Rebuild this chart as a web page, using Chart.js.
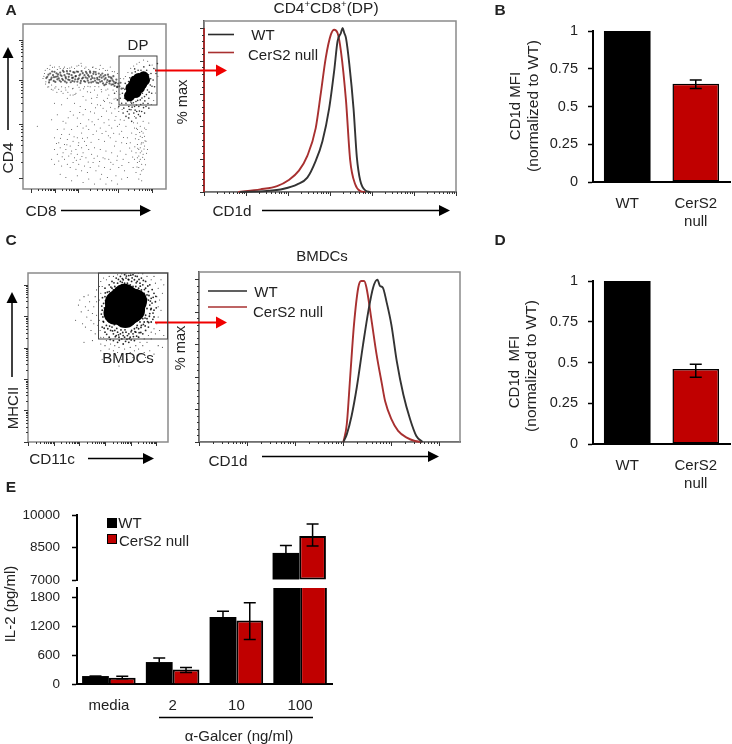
<!DOCTYPE html>
<html>
<head>
<meta charset="utf-8">
<script src="https://cdn.jsdelivr.net/npm/chart.js@4"></script>
<style>
  html, body { margin: 0; padding: 0; background: #fff; }
  #fig { position: relative; width: 732px; height: 744px; overflow: hidden; font-family: "Liberation Sans", Arial, sans-serif; color: #222; }
  #fig canvas { position: absolute; filter: blur(0.35px); }
  #fig svg { position: absolute; left: 0; top: 0; filter: blur(0.3px); }
  .lbl { position: absolute; white-space: nowrap; line-height: 1; }
  .lbl sup { font-size: 62%; line-height: 0; }
  .swatch { position: absolute; }
</style>
</head>
<body>
<div id="fig"></div>
<script>
// panel A dot plot, values in % of the axis
const aBlob = [[74.5,56.5],[76,58],[77.5,60.5],[79.6,62],[81.3,64],[83,66],[84.3,68],[77.3,63],[80.8,67],[75.5,61],[81.5,61.5],[79,58.5],[83,63.5],[78.5,65.5],[85,66]];
const aBand = [[17,68],[18.5,66],[19,70],[20,67.5],[21,69],[21.5,65.5],[22,71],[23,68],[24,66.5],[24.5,69.5],[25,67],[26,70.5],[26.5,65],[27,68.5],[28,66],[28.5,71],[29,69],[30,67],[30.5,64.5],[31,70],[32,68],[32.5,66],[33,71.5],[34,69],[34.5,65.5],[35,67.5],[36,70.5],[36.5,66.5],[37,68.5],[38,65],[38.5,71],[39,67],[40,69.5],[40.5,65.5],[41,71.5],[42,67.5],[43,69],[43.5,65],[44,71],[45,67],[45.5,69],[46,64.5],[47,70.5],[47.5,66.5],[48,68.5],[49,65],[49.5,71],[50,67],[51,69.5],[51.5,64.5],[52,66.5],[53,70],[53.5,68],[54,65],[55,67.5],[55.5,70],[56,64],[57,66.5],[57.5,69],[58,63.5],[59,66],[60,68],[60.5,64],[61,65.5],[62,67],[63,63.5],[63.5,65],[64,62.5],[65,64.5],[66,62]];
const aBand2 = [[16.3,67.2],[17.8,69.3],[18.2,64.6],[19.6,66.4],[20.4,71.2],[21.7,67.8],[22.6,64.9],[23.4,70.1],[24.2,68.3],[25.6,65.7],[26.3,69.1],[27.4,66.8],[27.9,71.8],[29.3,65.2],[29.8,67.9],[30.7,71.4],[31.6,66.3],[32.3,69.6],[33.4,64.7],[34.3,67.3],[35.2,70.8],[35.9,65.1],[36.7,68.2],[37.6,71.2],[38.3,66.4],[39.4,68.8],[40.2,64.2],[41.3,66.9],[41.8,70.2],[42.7,65.4],[43.8,67.6],[44.6,70.1],[45.3,65.7],[46.2,68.1],[46.8,71.3],[47.7,64.6],[48.5,67.3],[49.2,69.8],[50.4,65.6],[50.8,70.9],[51.9,67.4],[52.6,64.2],[53.3,66.2],[54.4,69.1],[55.2,65.4],[56.3,68.2],[56.9,62.9],[57.8,67.2],[58.6,64.7],[59.4,69.3],[60.2,65.3],[61.3,67.6],[61.9,63.2],[62.7,65.8],[63.2,68.4],[64.4,64.1],[65.3,66.3],[65.8,61.7],[66.6,63.9],[67.4,62.2],[68.2,64.4],[68.9,60.8]];
const aDpHalo = [[68,55],[69,52],[69.5,58],[70,61],[70.5,49],[71,55],[71.5,64],[72,52],[72.5,59],[73,47],[73.5,62],[74,50],[74.5,54],[75,65],[75.5,48],[76,52],[76.5,68],[77,55],[77.5,46],[78,50],[78.5,71],[79,53],[79.5,47],[80,56],[80.5,72],[81,50],[81.5,59],[82,54],[82.5,72],[83,47],[83.5,58],[84,52],[84.5,74],[85,56],[85.5,62],[86,50],[86.5,72],[87,60],[87.5,66],[88,55],[88.5,75],[89,63],[89.5,70],[90,58],[91,66],[91.5,73],[92,62],[93,70],[94,76],[72,44],[74,43],[76,41],[79,43],[82,44],[85,46],[88,49],[70,46],[67,50],[66,54],[64,58],[72.3,56.6],[73.2,53.4],[74.3,48.2],[75.4,52.7],[76.3,49.6],[77.2,52.3],[78.4,47.8],[79.3,50.9],[80.2,53.7],[81.4,47.2],[82.3,51.2],[83.2,55.1],[84.3,49.3],[85.2,53.4],[86.3,57.2],[87.4,51.8],[88.2,58.7],[71.2,60.4],[72.7,62.8],[73.8,65.1],[74.7,67.4],[76.2,70.3],[78.1,72.8],[86.7,64.2],[87.8,69.2],[89.3,66.8],[90.2,62.3],[74.2,45.4],[80.7,45.1]];
const aFine = [[14,67],[15,70],[16,65],[15.5,72],[17,73],[18,62],[19,75],[20,63],[21,60],[22,74],[23,62],[24,72.5],[25,60.5],[26,73],[27,62],[28,58],[29,74],[30,60],[31,73],[32,62],[33,57],[34,74],[35,61],[36,73],[37,58],[38,63],[39,75],[40,60],[41,74.5],[42,56],[43,62],[44,74],[45,59],[46,72.5],[47,62],[48,55],[49,74],[50,60],[51,73],[52,57],[53,62],[54,75],[55,59],[56,73],[57,53],[58,60],[59,72],[60,57],[61,74],[62,52],[63,60],[64,71],[65,55],[66,70],[67,47],[68,67],[59,55],[56,49],[52,51],[48,52],[44,54],[40,50],[36,52],[62,46],[65,44],[68,42],[60,42],[55,44],[50,46],[46,42],[42,45],[38,43],[33,47],[30,40],[34,36],[38,38],[42,37],[46,36],[50,39],[54,37],[58,35],[62,37],[66,38],[69,35],[72,38],[45,31],[49,33],[53,30],[57,29],[61,31],[65,29],[69,28],[73,31],[76,34],[78,37],[80,40],[82,38],[84,41],[79,33],[81,30],[83,35],[85,32],[80,27],[82,25],[84,28],[86,36],[79,22],[81,20],[83,23],[85,26],[78,18],[80,16],[82,18],[84,21],[86,29],[81,13],[83,15],[85,18],[79,10],[82,9],[84,12],[81,6],[83,5],[77,13],[76,23],[75,28],[87,24],[88,40],[78,44],[80,36],[82,32],[84,34],[81,24],[83,28],[85,37],[80,19],[82,22],[83,11],[24,36],[22,31],[25,28],[27,33],[29,27],[31,30],[33,26],[35,29],[37,24],[39,28],[41,25],[43,29],[22,24],[24,21],[26,25],[28,22],[30,24],[32,20],[34,23],[36,19],[38,21],[40,18],[42,22],[44,19],[46,24],[48,21],[50,25],[52,20],[54,24],[56,19],[58,23],[60,18],[62,22],[64,26],[66,20],[68,23],[70,18],[72,21],[74,16],[20,18],[22,15],[25,17],[27,14],[29,18],[31,15],[33,13],[35,16],[37,12],[39,15],[41,11],[43,14],[45,10],[47,13],[49,16],[51,11],[53,14],[55,9],[57,13],[59,7],[61,12],[63,15],[65,8],[67,13],[69,6],[71,11],[73,7],[26,9],[30,7],[34,5],[38,8],[42,4],[46,6],[50,3],[54,6],[58,3],[62,5],[66,3],[28,41],[24,45],[20,42],[38,31],[41,34],[10,38],[22,52],[27,51],[31,55],[35,57]];
const aFine2 = [[14.6,68.4],[15.8,63.7],[17.3,61.8],[18.7,72.6],[19.8,60.4],[20.6,73.8],[22.3,61.2],[23.7,58.6],[25.3,74.1],[26.7,59.3],[28.4,73.2],[29.6,61.4],[31.4,58.7],[32.7,73.4],[34.6,60.7],[36.3,57.2],[37.7,74.6],[39.2,61.7],[40.6,76.2],[42.4,60.8],[43.2,73.2],[45.4,62.2],[47.3,58.6],[48.6,73.8],[50.3,62.1],[51.7,55.4],[53.4,72.6],[54.7,60.3],[56.4,53.8],[57.6,71.8],[59.3,60.6],[60.7,52.3],[62.4,71.2],[63.7,54.6],[65.4,59.2],[66.6,49.3],[67.8,57.4],[69.3,48.2],[70.4,66.8],[71.6,68.2],[73.4,70.6],[75.3,73.2],[77.4,74.6],[79.6,75.7],[81.3,76.8],[84.3,78.2],[87.2,77.4],[90.3,75.2],[92.4,72.7],[94.3,68.4],[92.6,58.2],[91.4,53.6],[89.7,51.2],[64.3,48.7],[61.2,49.6],[58.4,47.2],[54.3,50.8],[50.7,49.2],[47.2,46.8],[43.6,48.2],[39.7,46.3],[35.2,44.8],[31.6,43.2],[40.3,39.7],[44.2,38.2],[48.3,40.8],[52.6,42.3],[56.7,40.2],[60.2,38.6],[64.3,41.7],[67.4,39.3],[70.7,41.6],[73.6,43.2],[77.3,40.2],[79.4,36.8],[81.6,34.2],[83.4,31.2],[85.3,29.2],[78.6,30.4],[80.3,24.7],[82.6,27.3],[84.6,24.3],[86.4,21.7],[79.7,13.4],[81.4,16.8],[83.7,19.3],[85.6,14.7],[78.2,25.6],[76.7,19.4],[74.6,24.8],[72.4,27.6],[70.3,31.2],[67.3,33.4],[63.4,33.8],[59.7,32.2],[55.3,33.6],[51.4,35.2],[47.6,28.4],[44.3,26.3],[41.6,30.7],[38.7,26.4],[35.7,31.6],[32.4,33.2],[28.7,36.4],[26.2,30.7],[23.4,27.6],[30.7,26.8],[33.6,21.4],[27.4,19.6],[37.3,17.4],[41.2,19.7],[45.6,16.4],[49.7,18.6],[53.6,16.7],[57.3,18.3],[61.4,16.2],[65.7,17.4],[69.2,14.3]];

// panel C dot plot
const cCore = [[69.5,80.5]];
const cLobes = [[62.5,76.5],[63.5,82.5],[76.5,83.5],[75,78],[69,86.5],[69.5,74.5],[72,84.5],[65.5,77]];
const cHalo = [[53,78],[53.5,74],[54,82],[54,71],[55,86],[56,69],[57,67],[58,89],[59,66],[60,91],[61,64],[62,92],[63,63],[64,94],[65,62],[66,95],[67,61],[68,96],[69,62],[70,97],[71,63],[72,96],[73,62],[74,95],[75,64],[76,96],[77,65],[78,95],[79,67],[80,94],[81,69],[82,93],[83,71],[84,91],[85,73],[86,89],[87,76],[88,85],[87,81],[88,79],[86,84],[85,79],[55,76],[56,81],[57,85],[56,73],[58,71],[59,88],[60,68],[61,90],[62,66],[63,91],[64,65],[65,92],[66,64],[67,93],[68,63],[69,94],[70,65],[71,94],[72,64],[73,93],[74,66],[75,92],[76,67],[77,92],[78,69],[79,91],[80,71],[81,90],[82,73],[83,88],[84,75],[85,87],[60,95],[63,97],[66,98],[69,99],[72,98.5],[75,99],[78,98],[81,97],[84,95],[87,93],[58,93],[55,91],[90,88],[91,83],[90,78],[90,74],[88,71],[86,68],[84,66],[82,64],[79,62],[76,60],[72,59],[68,58],[64,59],[61,60],[58,62],[55,65],[53,68]];
const cHalo2 = [[54.6,79.3],[55.4,83.6],[56.3,77.4],[57.2,72.8],[57.7,83.2],[58.3,68.6],[59.4,86.7],[60.4,65.7],[60.8,88.3],[61.7,69.4],[62.6,89.6],[63.4,67.2],[64.3,91.2],[64.7,63.4],[65.6,90.2],[66.4,66.3],[67.3,94.4],[67.7,64.8],[68.4,91.7],[69.3,66.4],[70.4,92.3],[70.7,60.8],[71.6,96.2],[72.4,61.2],[73.3,90.7],[73.6,65.2],[74.4,97.1],[75.3,62.4],[75.7,89.6],[76.4,65.3],[77.3,94.2],[77.6,67.7],[78.4,89.8],[79.4,64.7],[80.2,92.2],[80.7,67.8],[81.6,88.2],[82.4,69.6],[83.2,90.2],[83.6,73.3],[84.7,84.6],[85.4,71.2],[86.4,86.7],[86.7,74.4],[87.4,83.4],[87.7,78.4],[88.6,82.2],[89.3,76.3],[89.4,85.6],[88.7,90.2],[85.6,92.3],[82.4,95.6],[79.3,96.2],[76.7,98.2],[73.4,98.7],[70.3,98.2],[67.4,96.7],[64.6,96.2],[61.4,94.2],[59.2,91.7],[56.7,88.6],[55.2,88.2],[53.2,85.4],[52.7,80.4],[52.4,75.7],[53.7,71.4],[54.4,67.3],[56.2,63.7],[58.7,60.6],[62.4,62.3],[65.2,60.2],[69.7,59.6],[73.7,60.4],[77.6,62.6],[80.6,64.8],[83.7,68.7],[86.2,70.7],[89.2,72.6],[91.6,79.4],[91.3,86.2]];
const cFine = [[51,72],[51.5,66],[52,62],[51,84],[52,88],[53,92],[52,95],[54,97],[56,96],[58,98],[61,98],[64,99],[67,99.5],[70,99.5],[73,100],[76,100],[79,100],[82,99.5],[85,98],[88,96],[91,94],[93,91],[92,86],[94,84],[93,80],[95,78],[93,74],[92,70],[96,88],[97,93],[95,96],[90,98],[90,67],[88,65],[86,63],[83,61],[80,59],[77,57],[73,56],[69,55],[65,56],[62,57],[59,58],[56,60],[54,62],[52,58],[55,57],[58,55],[61,54],[64,53],[67,52],[70,52],[73,53],[76,54],[79,55],[82,57],[85,59],[88,61],[91,64],[94,66],[97,63],[93,57],[87,54],[83,53],[79,51],[75,50],[71,49],[67,49],[63,50],[59,51],[55,52],[52,54],[84,50],[90,52],[96,56],[53,49],[58,47],[65,45],[72,47],[47,80],[46,76],[45,72],[44,83],[43,78],[42,74],[41,80],[40,86],[38,77],[36,81],[48,86],[47,70],[49,75],[49,83],[50,69],[48,64],[45,66],[43,87],[34,72],[41,68],[39,70],[37,84],[46,60],[40,59],[51,92],[49,90]];

// histograms, channel decade vs % of max
const aWtX = [0.86,1.5,1.9,2.22,2.46,2.66,2.82,2.98,3.1,3.18,3.26,3.3,3.34,3.38,3.46,3.56,3.64,3.72,3.84,3.96];
const aWtY = [0,0.6,2,4.7,8.8,19,31,51,74,92,97,100,97,94,78,51,21,7,1,0];
const aNullX = [0.82,1.34,1.74,2.02,2.26,2.46,2.66,2.78,2.9,3.02,3.1,3.18,3.26,3.38,3.48,3.6,3.72,3.84];
const aNullY = [0,1.6,3.6,7.3,13,22,39,60,82,96,99,97,86,56,19.5,4.7,0.6,0];
const aSpikeX = [0,0];
const aSpikeY = [0,100];
const cWtX = [3.01,3.08,3.18,3.29,3.42,3.53,3.63,3.72,3.77,3.83,3.91,4.01,4.12,4.26,4.4,4.53,4.66];
const cWtY = [0,4.7,16,33.8,60,80.5,95,99.8,96,95,86,72,50,29,14,3.7,0];
const cNullX = [3.01,3.08,3.15,3.23,3.32,3.38,3.44,3.49,3.6,3.7,3.81,3.88,4.01,4.15,4.33,4.5,4.64];
const cNullY = [0,10.9,39.5,72,95,99,99,95,74,54,36,25,14,6.8,2.7,0.6,0];

// bar panels
const barCats = ['WT', ['CerS2', 'null']];
const mfiTicks = [0, 0.25, 0.5, 0.75, 1];
const bValues = [1, 0.65];
const bHi = [null, 0.675];
const bLo = [null, 0.62];
const dValues = [1, 0.46];
const dHi = [null, 0.49];
const dLo = [null, 0.41];

const eCats = ['media', '2', '10', '100'];
const eWt = [165, 455, 1387, 8250];
const eWtHi = [165, 538, 1510, 8590];
const eNull = [132, 298, 1318, 9030];
const eNullHi = [160, 340, 1685, 9590];
const eNullLo = [110, 236, 925, 8570];
const eTicksLow = [0, 600, 1200, 1800];
const eTicksHigh = [7000, 8500, 10000];

const BLACK = '#000';
const RED = '#c00000';
const FONT = '"Liberation Sans", Arial, sans-serif';
const fig = document.getElementById('fig');

// error bars from the dataset's errHi / errLo
const errBars = {
  id: 'errBars',
  afterDatasetsDraw(chart) {
    const { ctx, chartArea: a, scales: { y } } = chart;
    ctx.save();
    ctx.beginPath();
    ctx.rect(a.left - 8, a.top - 2, a.width + 16, a.height + 3);
    ctx.clip();
    ctx.strokeStyle = BLACK;
    ctx.lineWidth = 1.5;
    chart.data.datasets.forEach((ds, i) => {
      chart.getDatasetMeta(i).data.forEach((bar, k) => {
        if (ds.errHi == null || ds.errHi[k] == null) return;
        const hi = y.getPixelForValue(ds.errHi[k]);
        const lo = y.getPixelForValue(ds.errLo ? ds.errLo[k] : ds.data[k]);
        ctx.beginPath();
        ctx.moveTo(bar.x, hi); ctx.lineTo(bar.x, lo);
        ctx.moveTo(bar.x - 6, hi); ctx.lineTo(bar.x + 6, hi);
        if (ds.errLo) { ctx.moveTo(bar.x - 6, lo); ctx.lineTo(bar.x + 6, lo); }
        ctx.stroke();
      });
    });
    ctx.restore();
  }
};

// grey frame plus the flow cytometry style tick marks
const flowFrame = {
  id: 'flowFrame',
  beforeDatasetsDraw(chart) {
    const { ctx, chartArea: a } = chart;
    ctx.save();
    ctx.strokeStyle = '#8a8a8a';
    ctx.lineWidth = 1.5;
    ctx.strokeRect(a.left, a.top, a.width, a.height);
    ctx.restore();
  },
  afterDraw(chart, args, o) {
    const { ctx, chartArea: a, scales: { x, y } } = chart;
    ctx.save();
    ctx.strokeStyle = '#333';
    ctx.lineWidth = 1;
    const mark = (scale, v, len) => {
      const p = Math.round(scale.getPixelForValue(v)) + 0.5;
      ctx.beginPath();
      if (scale === x) { ctx.moveTo(p, a.bottom); ctx.lineTo(p, a.bottom + len); }
      else { ctx.moveTo(a.left, p); ctx.lineTo(a.left - len, p); }
      ctx.stroke();
    };
    [[x, o.xMajors, false], [y, o.yMajors, o.yLinear]].forEach(([scale, majors, linear]) => {
      majors.forEach((m, i) => {
        mark(scale, m, 4);
        if (i === majors.length - 1) return;
        const next = majors[i + 1];
        if (linear) for (let k = 1; k < 5; k++) mark(scale, m + (next - m) * k / 5, 2);
        else for (let k = 2; k < 10; k++) mark(scale, m + Math.log10(k) * (next - m), 2);
      });
    });
    ctx.restore();
  }
};

// canvas placed so that the plot area lands exactly on the given box
function plot(box, type, data, scales, plugins, pluginOpts) {
  const padLeft = Math.min(80, box.left);
  const padRight = Math.min(4, 732 - box.right);
  const padTop = 30;
  const padBottom = 50;
  const c = document.createElement('canvas');
  c.width = box.right - box.left + padLeft + padRight;
  c.height = box.bottom - box.top + padTop + padBottom;
  c.style.left = (box.left - padLeft) + 'px';
  c.style.top = (box.top - padTop) + 'px';
  fig.appendChild(c);
  scales.x.afterFit = s => { s.height = padBottom; };
  scales.y.afterFit = s => { s.width = padLeft; };
  return new Chart(c, {
    type: type,
    data: data,
    options: {
      responsive: false,
      animation: false,
      events: [],
      layout: { autoPadding: false, padding: { left: 0, top: padTop, right: padRight, bottom: 0 } },
      scales: scales,
      plugins: Object.assign({ legend: { display: false }, tooltip: { enabled: false } }, pluginOpts)
    },
    plugins: plugins
  });
}

const dots = (points, r, color) => ({ data: points.map(p => ({ x: p[0], y: p[1] })), pointRadius: r, pointBackgroundColor: color, pointBorderWidth: 0, showLine: false });
const curve = (xs, ys, color) => ({ data: xs.map((x, i) => ({ x: x, y: ys[i] })), borderColor: color, borderWidth: 1.9, pointRadius: 0, showLine: true, cubicInterpolationMode: 'monotone', clip: 2 });
const quiet = (min, max, line) => ({
  type: 'linear', min: min, max: max,
  grid: { display: false },
  ticks: { display: false },
  border: { display: line, color: '#222', width: 1.5 }
});

function dotPlot(box, datasets, ticks) {
  plot(box, 'scatter', { datasets: datasets }, { x: quiet(0, 100, false), y: quiet(0, 100, false) }, [flowFrame], { flowFrame: ticks });
}

function histogram(box, xMax, yMax, xMajors, datasets) {
  plot(box, 'scatter', { datasets: datasets }, { x: quiet(0, xMax, true), y: quiet(0, yMax, true) }, [flowFrame], {
    flowFrame: { xMajors: xMajors, yMajors: [0, 20, 40, 60, 80, 100], yLinear: true }
  });
}

function barAxis(ticksList, min, max, padding, size) {
  return {
    min: min, max: max,
    afterBuildTicks: s => { s.ticks = ticksList.map(v => ({ value: v })); },
    grid: { drawOnChartArea: false, tickLength: 5, tickColor: BLACK, tickWidth: 1.5 },
    border: { color: BLACK, width: 2 },
    ticks: { padding: padding, color: '#222', font: { family: FONT, size: size }, autoSkip: false, callback: v => String(v) }
  };
}
function catAxis(line, size) {
  return {
    grid: { display: false },
    border: { display: line, color: BLACK, width: 2 },
    ticks: { display: line, padding: 5, color: '#222', font: { family: FONT, size: size, lineHeight: 1.2 }, maxRotation: 0 }
  };
}

function mfiBars(box, values, hi, lo) {
  plot(box, 'bar', {
    labels: barCats,
    datasets: [{
      data: values, errHi: hi, errLo: lo,
      backgroundColor: [BLACK, RED], borderColor: BLACK, borderWidth: [0, 1.5], borderSkipped: false,
      barPercentage: 0.68, categoryPercentage: 1
    }]
  }, { x: catAxis(true, 15), y: barAxis(mfiTicks, 0, 1, 10, 14.5) }, [errBars]);
}

// ---- dot plots ----
dotPlot({ left: 23, top: 24, right: 166, bottom: 189 }, [
  dots(aFine, 0.5, 'rgba(0,0,0,.75)'),
  dots(aFine2, 0.5, 'rgba(0,0,0,.75)'),
  dots(aDpHalo, 0.8, 'rgba(0,0,0,.8)'),
  dots(aBand, 1.1, 'rgba(0,0,0,.6)'),
  dots(aBand2, 1.1, 'rgba(0,0,0,.6)'),
  dots(aBlob, 5.5, BLACK)
], { xMajors: [5.4, 22.3, 38.4, 66.5, 90.4], yMajors: [6.7, 39.5, 66, 90.5] });

dotPlot({ left: 28, top: 273, right: 168, bottom: 442 }, [
  dots(cFine, 0.55, 'rgba(0,0,0,.8)'),
  dots(cHalo, 0.9, 'rgba(0,0,0,.85)'),
  dots(cHalo2, 0.9, 'rgba(0,0,0,.85)'),
  dots(cCore, 20, BLACK),
  dots(cLobes, 12, BLACK)
], { xMajors: [0, 18.4, 36.6, 55, 73.4, 91.6], yMajors: [0, 18.8, 37.2, 55.8, 74.3, 93] });

// ---- histograms ----
histogram({ left: 204, top: 21, right: 456, bottom: 192 }, 6, 104.3, [0, 1, 2, 3, 4, 5, 6], [
  curve(aSpikeX, aSpikeY, '#a82a2a'),
  curve(aWtX, aWtY, '#333'),
  curve(aNullX, aNullY, '#a83030')
]);
histogram({ left: 199, top: 272, right: 460, bottom: 442 }, 5.44, 104.5, [0, 1, 2, 3, 4, 5], [
  curve(cWtX, cWtY, '#333'),
  curve(cNullX, cNullY, '#a83030')
]);

// ---- normalised MFI bars ----
mfiBars({ left: 593, top: 31, right: 730, bottom: 182 }, bValues, bHi, bLo);
mfiBars({ left: 593, top: 281, right: 730, bottom: 444 }, dValues, dHi, dLo);

// ---- IL-2, broken axis: same values on two scales ----
const ePairs = (wt, nl, up) => [
  { data: wt, errHi: eWtHi, backgroundColor: BLACK, borderWidth: 0, base: up ? 7000 : 0, clip: up ? 2 : 0 },
  { data: nl, errHi: eNullHi, errLo: eNullLo, backgroundColor: RED, borderColor: BLACK, borderWidth: 2, borderSkipped: up ? false : 'bottom', base: up ? 7000 : 0, clip: up ? 2 : 0 }
];
const eBar = { categoryPercentage: 0.84, barPercentage: 1 };
plot({ left: 77, top: 515, right: 331, bottom: 580 }, 'bar', {
  labels: eCats,
  datasets: ePairs(eWt.map(v => v >= 7000 ? v : null), eNull.map(v => v >= 7000 ? v : null), true).map(d => Object.assign(d, eBar))
}, { x: catAxis(false, 15), y: barAxis(eTicksHigh, 7000, 10000, 12, 13.5) }, [errBars]);
plot({ left: 77, top: 588, right: 332, bottom: 684 }, 'bar', {
  labels: eCats,
  datasets: ePairs(eWt, eNull, false).map(d => Object.assign(d, eBar))
}, { x: catAxis(true, 15), y: barAxis(eTicksLow, 0, 1990, 12, 13.5) }, [errBars]);

// ---- text ----
function label(html, cx, cy, size, opts) {
  opts = opts || {};
  const d = document.createElement('div');
  d.className = 'lbl';
  d.innerHTML = html;
  d.style.left = cx + 'px';
  d.style.top = cy + 'px';
  d.style.fontSize = size + 'px';
  if (opts.bold) d.style.fontWeight = 'bold';
  d.style.transform = 'translate(-50%,-50%)' + (opts.rot ? ' rotate(-90deg)' : '');
  fig.appendChild(d);
}

label('A', 11, 10, 15.5, { bold: true });
label('B', 500, 10, 15.5, { bold: true });
label('C', 11, 240, 15.5, { bold: true });
label('D', 500, 240, 15.5, { bold: true });
label('E', 11, 487, 15.5, { bold: true });

label('CD4<sup>+</sup>CD8<sup>+</sup>(DP)', 326, 8, 15.5);
label('DP', 138, 44, 15);
label('CD4', 8, 158, 15.5, { rot: true });
label('CD8', 41, 211, 15.5);
label('% max', 182, 102, 14.6, { rot: true });
label('CD1d', 232, 211, 15.3);
label('WT', 263, 34, 15);
label('CerS2 null', 283, 54, 15);

label('BMDCs', 322, 255, 15);
label('BMDCs', 128, 357, 15);
label('MHCII', 12, 408, 15, { rot: true });
label('CD11c', 52, 459, 15.3);
label('% max', 180, 348, 14.6, { rot: true });
label('CD1d', 228, 461, 15.3);
label('WT', 266, 291, 15);
label('CerS2 null', 288, 311, 15);

label('CD1d MFI', 514, 106, 15, { rot: true });
label('(normalized to WT)', 533, 106, 15.5, { rot: true });
label('CD1d&nbsp; MFI', 513, 372, 15, { rot: true });
label('(normalized to WT)', 531, 366, 15.5, { rot: true });

label('IL-2 (pg/ml)', 9, 604, 15, { rot: true });
label('WT', 130, 522, 15);
label('CerS2 null', 154, 540, 15);
label('α-Galcer (ng/ml)', 239, 735, 15);

// legend swatches for panel E
[[107, 518, BLACK], [107, 534, RED]].forEach(([x, y, col]) => {
  const s = document.createElement('div');
  s.className = 'swatch';
  s.style.cssText += `left:${x}px;top:${y}px;width:8px;height:8px;background:${col};border:1px solid #000`;
  fig.appendChild(s);
});

// ---- arrows, gates and legend lines ----
const NS = 'http://www.w3.org/2000/svg';
const svg = document.createElementNS(NS, 'svg');
svg.setAttribute('width', 732);
svg.setAttribute('height', 744);
fig.appendChild(svg);
function add(tag, attrs) {
  const el = document.createElementNS(NS, tag);
  Object.keys(attrs).forEach(k => el.setAttribute(k, attrs[k]));
  svg.appendChild(el);
}
function seg(x1, y1, x2, y2, color, w) {
  add('line', { x1, y1, x2, y2, stroke: color, 'stroke-width': w });
}
function arrow(x1, y1, x2, y2, color, len, half, w) {
  const ux = Math.sign(x2 - x1), uy = Math.sign(y2 - y1);
  seg(x1, y1, x2 - ux * len, y2 - uy * len, color, w);
  const bx = x2 - ux * len, by = y2 - uy * len;
  add('polygon', { points: `${x2},${y2} ${bx - uy * half},${by - ux * half} ${bx + uy * half},${by + ux * half}`, fill: color });
}
arrow(8, 130, 8, 47, BLACK, 11, 5.5, 1.5);
arrow(61, 210.5, 151, 210.5, BLACK, 11, 5.5, 1.5);
arrow(262, 210.5, 450, 210.5, BLACK, 11, 5.5, 1.5);
arrow(155, 70.5, 227, 70.5, '#f00000', 11, 6, 2);
arrow(12, 377, 12, 292, BLACK, 11, 5.5, 1.5);
arrow(88, 458.5, 154, 458.5, BLACK, 11, 5.5, 1.5);
arrow(262, 456.5, 439, 456.5, BLACK, 11, 5.5, 1.5);
arrow(155, 322.5, 227, 322.5, '#f00000', 11, 6, 2);

add('rect', { x: 119, y: 56, width: 38, height: 49, fill: 'none', stroke: '#444', 'stroke-width': 1 });
add('rect', { x: 98.5, y: 273, width: 69, height: 66, fill: 'none', stroke: '#444', 'stroke-width': 1 });

seg(208, 34.5, 234, 34.5, '#2b2b2b', 1.6);
seg(208, 52.5, 234, 52.5, '#a83030', 1.6);
seg(208, 291, 247, 291, '#2b2b2b', 1.6);
seg(208, 307, 247, 307, '#a83030', 1.6);
seg(159, 717.5, 313, 717.5, BLACK, 1.5);
</script>
</body>
</html>
